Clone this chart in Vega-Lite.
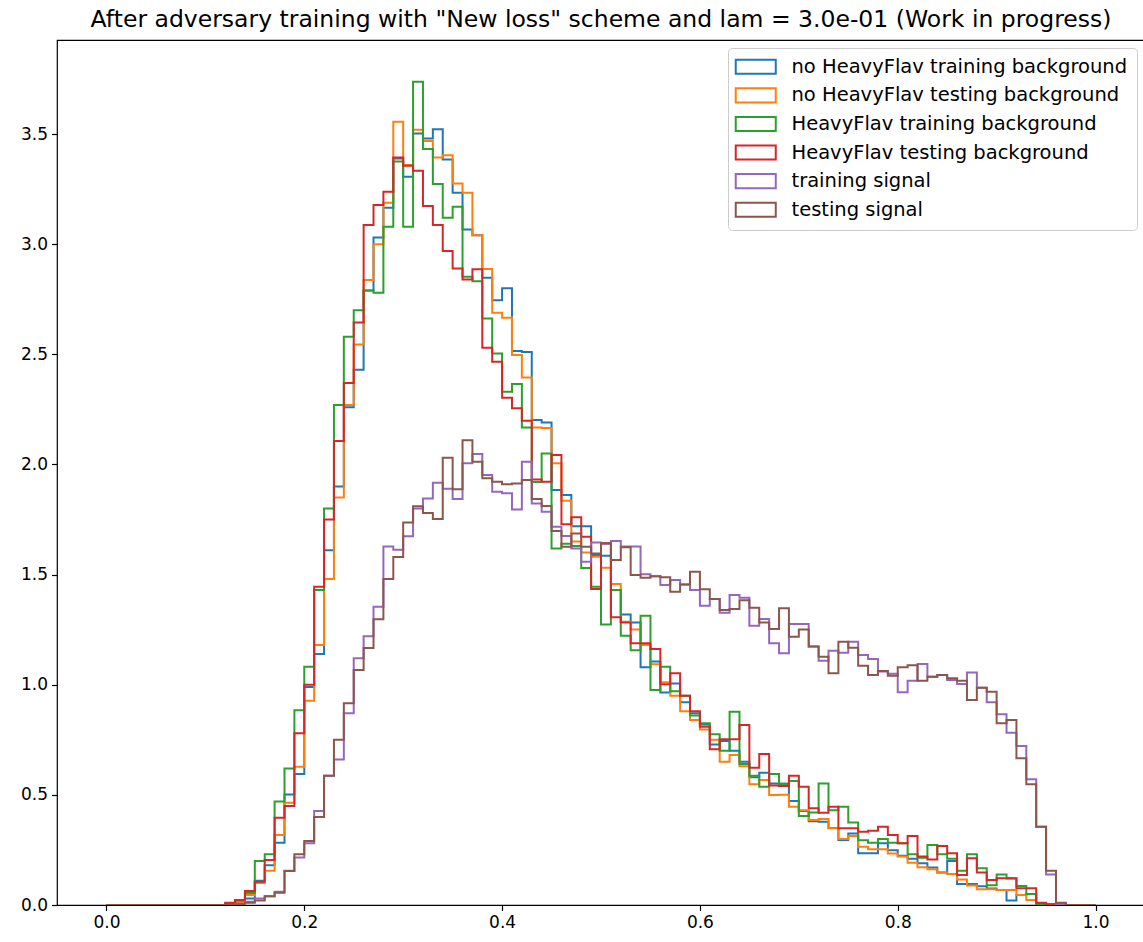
{
  "$schema": "https://vega.github.io/schema/vega-lite/v6.json",
  "width": 1088,
  "height": 865,
  "autosize": {"type": "none"},
  "padding": {"left": 57, "top": 40, "right": 0, "bottom": 37},
  "background": "white",
  "config": {
    "font": "DejaVu Sans",
    "view": {"stroke": "black", "strokeWidth": 1.2},
    "axis": {"grid": false, "domain": false, "tickColor": "black", "tickWidth": 1.2, "tickSize": 5.5, "labelFontSize": 17, "labelColor": "black", "labelPadding": 4, "title": null}
  },
  "title": {"text": "After adversary training with \"New loss\" scheme and lam = 3.0e-01 (Work in progress)", "fontSize": 23.5, "fontWeight": "normal", "color": "black", "anchor": "middle", "offset": 9},
  "data": {"values": [
    {"x":0.00,"nohf_train":0,"nohf_test":0,"hf_train":0,"hf_test":0,"sig_train":0,"sig_test":0},
    {"x":0.01,"nohf_train":0,"nohf_test":0,"hf_train":0,"hf_test":0,"sig_train":0,"sig_test":0},
    {"x":0.02,"nohf_train":0,"nohf_test":0,"hf_train":0,"hf_test":0,"sig_train":0,"sig_test":0},
    {"x":0.03,"nohf_train":0,"nohf_test":0,"hf_train":0,"hf_test":0,"sig_train":0,"sig_test":0},
    {"x":0.04,"nohf_train":0,"nohf_test":0,"hf_train":0,"hf_test":0,"sig_train":0,"sig_test":0},
    {"x":0.05,"nohf_train":0,"nohf_test":0,"hf_train":0,"hf_test":0,"sig_train":0,"sig_test":0},
    {"x":0.06,"nohf_train":0,"nohf_test":0,"hf_train":0,"hf_test":0,"sig_train":0,"sig_test":0},
    {"x":0.07,"nohf_train":0,"nohf_test":0,"hf_train":0,"hf_test":0,"sig_train":0,"sig_test":0},
    {"x":0.08,"nohf_train":0,"nohf_test":0,"hf_train":0,"hf_test":0,"sig_train":0,"sig_test":0},
    {"x":0.09,"nohf_train":0,"nohf_test":0,"hf_train":0,"hf_test":0,"sig_train":0,"sig_test":0},
    {"x":0.10,"nohf_train":0,"nohf_test":0,"hf_train":0,"hf_test":0,"sig_train":0,"sig_test":0},
    {"x":0.11,"nohf_train":0,"nohf_test":0,"hf_train":0,"hf_test":0,"sig_train":0,"sig_test":0},
    {"x":0.12,"nohf_train":0.005,"nohf_test":0.005,"hf_train":0.003,"hf_test":0.01,"sig_train":0,"sig_test":0},
    {"x":0.13,"nohf_train":0.01,"nohf_test":0.015,"hf_train":0.02,"hf_test":0.023,"sig_train":0.005,"sig_test":0.003},
    {"x":0.14,"nohf_train":0.03,"nohf_test":0.045,"hf_train":0.055,"hf_test":0.064,"sig_train":0.015,"sig_test":0.01},
    {"x":0.15,"nohf_train":0.11,"nohf_test":0.10,"hf_train":0.20,"hf_test":0.106,"sig_train":0.03,"sig_test":0.02},
    {"x":0.16,"nohf_train":0.18,"nohf_test":0.155,"hf_train":0.23,"hf_test":0.204,"sig_train":0.04,"sig_test":0.04},
    {"x":0.17,"nohf_train":0.283,"nohf_test":0.318,"hf_train":0.47,"hf_test":0.396,"sig_train":0.06,"sig_test":0.056},
    {"x":0.18,"nohf_train":0.502,"nohf_test":0.464,"hf_train":0.62,"hf_test":0.45,"sig_train":0.155,"sig_test":0.154},
    {"x":0.19,"nohf_train":0.595,"nohf_test":0.628,"hf_train":0.884,"hf_test":0.78,"sig_train":0.216,"sig_test":0.23},
    {"x":0.20,"nohf_train":0.99,"nohf_test":0.927,"hf_train":1.082,"hf_test":1.0,"sig_train":0.28,"sig_test":0.29},
    {"x":0.21,"nohf_train":1.14,"nohf_test":1.18,"hf_train":1.43,"hf_test":1.445,"sig_train":0.427,"sig_test":0.40},
    {"x":0.22,"nohf_train":1.61,"nohf_test":1.48,"hf_train":1.80,"hf_test":1.75,"sig_train":0.587,"sig_test":0.587},
    {"x":0.23,"nohf_train":1.90,"nohf_test":1.85,"hf_train":2.27,"hf_test":2.106,"sig_train":0.66,"sig_test":0.75},
    {"x":0.24,"nohf_train":2.26,"nohf_test":2.27,"hf_train":2.58,"hf_test":2.37,"sig_train":0.87,"sig_test":0.916},
    {"x":0.25,"nohf_train":2.43,"nohf_test":2.545,"hf_train":2.70,"hf_test":2.645,"sig_train":1.12,"sig_test":1.067},
    {"x":0.26,"nohf_train":2.79,"nohf_test":2.837,"hf_train":2.79,"hf_test":3.087,"sig_train":1.22,"sig_test":1.167},
    {"x":0.27,"nohf_train":3.03,"nohf_test":3.00,"hf_train":2.78,"hf_test":3.178,"sig_train":1.354,"sig_test":1.297},
    {"x":0.28,"nohf_train":3.165,"nohf_test":3.188,"hf_train":3.079,"hf_test":3.238,"sig_train":1.628,"sig_test":1.48},
    {"x":0.29,"nohf_train":3.389,"nohf_test":3.556,"hf_train":3.375,"hf_test":3.394,"sig_train":1.613,"sig_test":1.58},
    {"x":0.30,"nohf_train":3.306,"nohf_test":3.36,"hf_train":3.079,"hf_test":3.356,"sig_train":1.674,"sig_test":1.736},
    {"x":0.31,"nohf_train":3.503,"nohf_test":3.52,"hf_train":3.737,"hf_test":3.333,"sig_train":1.80,"sig_test":1.81},
    {"x":0.32,"nohf_train":3.48,"nohf_test":3.469,"hf_train":3.432,"hf_test":3.173,"sig_train":1.846,"sig_test":1.78},
    {"x":0.33,"nohf_train":3.522,"nohf_test":3.394,"hf_train":3.273,"hf_test":3.087,"sig_train":1.917,"sig_test":1.752},
    {"x":0.34,"nohf_train":3.385,"nohf_test":3.404,"hf_train":3.12,"hf_test":2.969,"sig_train":1.89,"sig_test":2.03},
    {"x":0.35,"nohf_train":3.233,"nohf_test":3.276,"hf_train":3.17,"hf_test":2.89,"sig_train":1.843,"sig_test":1.887},
    {"x":0.36,"nohf_train":3.067,"nohf_test":3.233,"hf_train":2.852,"hf_test":2.84,"sig_train":2.005,"sig_test":2.11},
    {"x":0.37,"nohf_train":3.041,"nohf_test":3.041,"hf_train":2.832,"hf_test":2.886,"sig_train":2.047,"sig_test":2.012},
    {"x":0.38,"nohf_train":2.848,"nohf_test":2.887,"hf_train":2.663,"hf_test":2.53,"sig_train":1.952,"sig_test":1.937},
    {"x":0.39,"nohf_train":2.746,"nohf_test":2.689,"hf_train":2.504,"hf_test":2.466,"sig_train":1.876,"sig_test":1.921},
    {"x":0.40,"nohf_train":2.80,"nohf_test":2.666,"hf_train":2.33,"hf_test":2.303,"sig_train":1.869,"sig_test":1.91},
    {"x":0.41,"nohf_train":2.515,"nohf_test":2.497,"hf_train":2.365,"hf_test":2.255,"sig_train":1.796,"sig_test":1.913},
    {"x":0.42,"nohf_train":2.51,"nohf_test":2.395,"hf_train":2.168,"hf_test":2.199,"sig_train":2.012,"sig_test":1.93},
    {"x":0.43,"nohf_train":2.202,"nohf_test":2.168,"hf_train":1.92,"hf_test":1.932,"sig_train":1.823,"sig_test":1.843},
    {"x":0.44,"nohf_train":2.19,"nohf_test":2.165,"hf_train":2.05,"hf_test":1.922,"sig_train":1.785,"sig_test":1.811},
    {"x":0.45,"nohf_train":1.884,"nohf_test":2.005,"hf_train":1.619,"hf_test":2.043,"sig_train":1.717,"sig_test":1.698},
    {"x":0.46,"nohf_train":1.861,"nohf_test":1.835,"hf_train":1.64,"hf_test":1.728,"sig_train":1.675,"sig_test":1.626},
    {"x":0.47,"nohf_train":1.72,"nohf_test":1.65,"hf_train":1.63,"hf_test":1.76,"sig_train":1.619,"sig_test":1.687},
    {"x":0.48,"nohf_train":1.72,"nohf_test":1.60,"hf_train":1.53,"hf_test":1.672,"sig_train":1.558,"sig_test":1.626},
    {"x":0.49,"nohf_train":1.589,"nohf_test":1.581,"hf_train":1.445,"hf_test":1.435,"sig_train":1.646,"sig_test":1.596},
    {"x":0.50,"nohf_train":1.586,"nohf_test":1.531,"hf_train":1.274,"hf_test":1.642,"sig_train":1.64,"sig_test":1.642},
    {"x":0.51,"nohf_train":1.43,"nohf_test":1.457,"hf_train":1.43,"hf_test":1.306,"sig_train":1.652,"sig_test":1.566},
    {"x":0.52,"nohf_train":1.319,"nohf_test":1.286,"hf_train":1.222,"hf_test":1.283,"sig_train":1.627,"sig_test":1.624},
    {"x":0.53,"nohf_train":1.283,"nohf_test":1.251,"hf_train":1.157,"hf_test":1.188,"sig_train":1.627,"sig_test":1.498},
    {"x":0.54,"nohf_train":1.079,"nohf_test":1.18,"hf_train":1.313,"hf_test":1.188,"sig_train":1.502,"sig_test":1.486},
    {"x":0.55,"nohf_train":1.105,"nohf_test":1.093,"hf_train":0.976,"hf_test":1.162,"sig_train":1.493,"sig_test":1.493},
    {"x":0.56,"nohf_train":0.965,"nohf_test":1.011,"hf_train":1.082,"hf_test":1.002,"sig_train":1.453,"sig_test":1.488},
    {"x":0.57,"nohf_train":1.006,"nohf_test":0.95,"hf_train":0.97,"hf_test":1.052,"sig_train":1.475,"sig_test":1.422},
    {"x":0.58,"nohf_train":0.92,"nohf_test":0.88,"hf_train":0.95,"hf_test":0.95,"sig_train":1.455,"sig_test":1.455},
    {"x":0.59,"nohf_train":0.87,"nohf_test":0.84,"hf_train":0.86,"hf_test":0.88,"sig_train":1.43,"sig_test":1.513},
    {"x":0.60,"nohf_train":0.82,"nohf_test":0.797,"hf_train":0.825,"hf_test":0.809,"sig_train":1.359,"sig_test":1.434},
    {"x":0.61,"nohf_train":0.729,"nohf_test":0.75,"hf_train":0.775,"hf_test":0.707,"sig_train":1.389,"sig_test":1.389},
    {"x":0.62,"nohf_train":0.745,"nohf_test":0.65,"hf_train":0.70,"hf_test":0.752,"sig_train":1.327,"sig_test":1.339},
    {"x":0.63,"nohf_train":0.70,"nohf_test":0.681,"hf_train":0.877,"hf_test":0.752,"sig_train":1.407,"sig_test":1.344},
    {"x":0.64,"nohf_train":0.65,"nohf_test":0.63,"hf_train":0.64,"hf_test":0.817,"sig_train":1.395,"sig_test":1.384},
    {"x":0.65,"nohf_train":0.58,"nohf_test":0.548,"hf_train":0.587,"hf_test":0.623,"sig_train":1.268,"sig_test":1.35},
    {"x":0.66,"nohf_train":0.60,"nohf_test":0.568,"hf_train":0.537,"hf_test":0.685,"sig_train":1.298,"sig_test":1.283},
    {"x":0.67,"nohf_train":0.552,"nohf_test":0.499,"hf_train":0.595,"hf_test":0.542,"sig_train":1.188,"sig_test":1.253},
    {"x":0.68,"nohf_train":0.55,"nohf_test":0.50,"hf_train":0.55,"hf_test":0.54,"sig_train":1.143,"sig_test":1.347},
    {"x":0.69,"nohf_train":0.472,"nohf_test":0.446,"hf_train":0.563,"hf_test":0.587,"sig_train":1.276,"sig_test":1.218},
    {"x":0.70,"nohf_train":0.427,"nohf_test":0.43,"hf_train":0.404,"hf_test":0.537,"sig_train":1.276,"sig_test":1.251},
    {"x":0.71,"nohf_train":0.38,"nohf_test":0.386,"hf_train":0.42,"hf_test":0.439,"sig_train":1.173,"sig_test":1.173},
    {"x":0.72,"nohf_train":0.378,"nohf_test":0.39,"hf_train":0.552,"hf_test":0.419,"sig_train":1.109,"sig_test":1.127},
    {"x":0.73,"nohf_train":0.35,"nohf_test":0.348,"hf_train":0.43,"hf_test":0.446,"sig_train":1.154,"sig_test":1.052},
    {"x":0.74,"nohf_train":0.295,"nohf_test":0.30,"hf_train":0.446,"hf_test":0.348,"sig_train":1.145,"sig_test":1.195},
    {"x":0.75,"nohf_train":0.325,"nohf_test":0.313,"hf_train":0.374,"hf_test":0.348,"sig_train":1.195,"sig_test":1.168},
    {"x":0.76,"nohf_train":0.235,"nohf_test":0.265,"hf_train":0.294,"hf_test":0.333,"sig_train":1.135,"sig_test":1.086},
    {"x":0.77,"nohf_train":0.235,"nohf_test":0.253,"hf_train":0.283,"hf_test":0.337,"sig_train":1.117,"sig_test":1.044},
    {"x":0.78,"nohf_train":0.28,"nohf_test":0.253,"hf_train":0.30,"hf_test":0.355,"sig_train":1.06,"sig_test":1.062},
    {"x":0.79,"nohf_train":0.249,"nohf_test":0.234,"hf_train":0.283,"hf_test":0.318,"sig_train":1.05,"sig_test":1.041},
    {"x":0.80,"nohf_train":0.224,"nohf_test":0.22,"hf_train":0.28,"hf_test":0.28,"sig_train":0.966,"sig_test":1.079},
    {"x":0.81,"nohf_train":0.21,"nohf_test":0.192,"hf_train":0.23,"hf_test":0.313,"sig_train":1.018,"sig_test":1.089},
    {"x":0.82,"nohf_train":0.19,"nohf_test":0.171,"hf_train":0.215,"hf_test":0.22,"sig_train":1.094,"sig_test":1.018},
    {"x":0.83,"nohf_train":0.17,"nohf_test":0.162,"hf_train":0.272,"hf_test":0.207,"sig_train":1.036,"sig_test":1.036},
    {"x":0.84,"nohf_train":0.147,"nohf_test":0.147,"hf_train":0.23,"hf_test":0.268,"sig_train":1.044,"sig_test":1.044},
    {"x":0.85,"nohf_train":0.20,"nohf_test":0.141,"hf_train":0.21,"hf_test":0.235,"sig_train":1.021,"sig_test":1.029},
    {"x":0.86,"nohf_train":0.095,"nohf_test":0.116,"hf_train":0.156,"hf_test":0.136,"sig_train":1.003,"sig_test":1.018},
    {"x":0.87,"nohf_train":0.095,"nohf_test":0.088,"hf_train":0.23,"hf_test":0.212,"sig_train":1.055,"sig_test":0.931},
    {"x":0.88,"nohf_train":0.085,"nohf_test":0.071,"hf_train":0.167,"hf_test":0.147,"sig_train":0.986,"sig_test":0.986},
    {"x":0.89,"nohf_train":0.075,"nohf_test":0.071,"hf_train":0.09,"hf_test":0.114,"sig_train":0.92,"sig_test":0.968},
    {"x":0.90,"nohf_train":0.068,"nohf_test":0.068,"hf_train":0.139,"hf_test":0.121,"sig_train":0.866,"sig_test":0.825},
    {"x":0.91,"nohf_train":0.02,"nohf_test":0.068,"hf_train":0.12,"hf_test":0.121,"sig_train":0.782,"sig_test":0.84},
    {"x":0.92,"nohf_train":0.045,"nohf_test":0.045,"hf_train":0.086,"hf_test":0.076,"sig_train":0.722,"sig_test":0.666},
    {"x":0.93,"nohf_train":0.05,"nohf_test":0.023,"hf_train":0.05,"hf_test":0.076,"sig_train":0.571,"sig_test":0.548},
    {"x":0.94,"nohf_train":0.007,"nohf_test":0.005,"hf_train":0.005,"hf_test":0.01,"sig_train":0.355,"sig_test":0.355},
    {"x":0.95,"nohf_train":0.002,"nohf_test":0.002,"hf_train":0.002,"hf_test":0.003,"sig_train":0.139,"sig_test":0.156},
    {"x":0.96,"nohf_train":0,"nohf_test":0,"hf_train":0,"hf_test":0,"sig_train":0.005,"sig_test":0.01},
    {"x":0.97,"nohf_train":0,"nohf_test":0,"hf_train":0,"hf_test":0,"sig_train":0,"sig_test":0},
    {"x":0.98,"nohf_train":0,"nohf_test":0,"hf_train":0,"hf_test":0,"sig_train":0,"sig_test":0},
    {"x":0.99,"nohf_train":0,"nohf_test":0,"hf_train":0,"hf_test":0,"sig_train":0,"sig_test":0},
    {"x":1.00,"nohf_train":0,"nohf_test":0,"hf_train":0,"hf_test":0,"sig_train":0,"sig_test":0}
  ]},
  "transform": [
    {"fold": ["nohf_train", "nohf_test", "hf_train", "hf_test", "sig_train", "sig_test"], "as": ["sample", "density"]}
  ],
  "mark": {"type": "line", "interpolate": "step-after", "strokeWidth": 2, "clip": true},
  "encoding": {
    "x": {"field": "x", "type": "quantitative",
          "scale": {"domain": [-0.05, 1.05], "nice": false, "zero": false},
          "axis": {"values": [0, 0.2, 0.4, 0.6, 0.8, 1.0], "format": ".1f"}},
    "y": {"field": "density", "type": "quantitative",
          "scale": {"domain": [0, 3.927], "nice": false},
          "axis": {"values": [0, 0.5, 1, 1.5, 2, 2.5, 3, 3.5], "format": ".1f"}},
    "color": {"field": "sample", "type": "nominal",
              "scale": {"domain": ["nohf_train", "nohf_test", "hf_train", "hf_test", "sig_train", "sig_test"],
                        "range": ["#1f77b4", "#ff7f0e", "#2ca02c", "#d62728", "#9467bd", "#8c564b"]},
              "legend": {"title": null, "orient": "none", "legendX": 671, "legendY": 8,
                         "symbolType": "M-2.83,-1L2.83,-1L2.83,1L-2.83,1Z", "symbolSize": 200, "symbolStrokeWidth": 2,
                         "symbolFillColor": "transparent", "symbolOffset": 9,
                         "labelFontSize": 19.5, "labelColor": "black", "labelOffset": 26, "labelLimit": 0, "rowPadding": 5.6,
                         "padding": 9, "fillColor": "rgba(255,255,255,0.8)", "strokeColor": "#cccccc", "cornerRadius": 4,
                         "labelExpr": "datum.value === 'nohf_train' ? 'no HeavyFlav training background' : datum.value === 'nohf_test' ? 'no HeavyFlav testing background' : datum.value === 'hf_train' ? 'HeavyFlav training background' : datum.value === 'hf_test' ? 'HeavyFlav testing background' : datum.value === 'sig_train' ? 'training signal' : 'testing signal'"}},
    "order": {"field": "x", "type": "quantitative"}
  }
}
